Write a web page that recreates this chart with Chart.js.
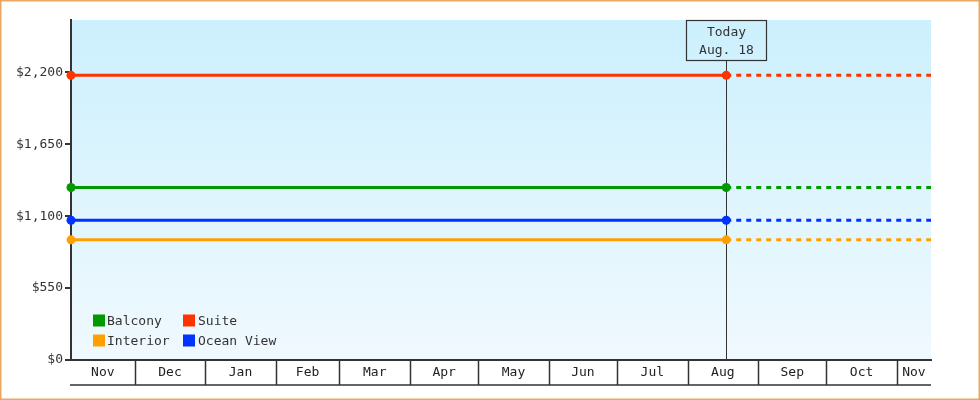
<!DOCTYPE html>
<html>
<head>
<meta charset="utf-8">
<script src="https://cdn.jsdelivr.net/npm/chart.js@4/dist/chart.umd.min.js"></script>
<style>
  body { margin: 0; background: #fff; }
</style>
</head>
<body>
<canvas id="priceChart" width="980" height="400"></canvas>
<script>
// dates on the x axis
const startDate = '2024-11-03';
const todayDate = '2025-08-18';
const endDate = '2025-11-16';
const monthStarts = ['2024-12-01', '2025-01-01', '2025-02-01', '2025-03-01', '2025-04-01', '2025-05-01',
    '2025-06-01', '2025-07-01', '2025-08-01', '2025-09-01', '2025-10-01', '2025-11-01'];
const monthLabels = ['Nov', 'Dec', 'Jan', 'Feb', 'Mar', 'Apr', 'May', 'Jun', 'Jul', 'Aug', 'Sep', 'Oct', 'Nov'];

// cabin prices
const seriesNames = ['Balcony', 'Suite', 'Interior', 'Ocean View'];
const seriesValues = [1319, 2177, 919, 1069];
const seriesColors = ['#009900', '#ff3300', '#ffa000', '#0033ff'];

const yTicks = [0, 550, 1100, 1650, 2200];
const yMax = 2600;

const dayOf = s => (Date.parse(s) - Date.parse(startDate)) / 86400000;
const bounds = [0, ...monthStarts.map(dayOf), dayOf(endDate)];
const mids = monthLabels.map((m, i) => (bounds[i] + bounds[i + 1]) / 2);
const pointDays = [0, dayOf(todayDate), dayOf(endDate)];

Chart.defaults.font.family = '"DejaVu Sans Mono", monospace';
Chart.defaults.font.size = 13;
Chart.defaults.color = '#333';

const todayX = chart => Math.round(chart.scales.x.getPixelForValue(dayOf(todayDate))) + 0.5;

const bgPlugin = {
    id: 'bg',
    beforeDraw(chart) {
        const { ctx, chartArea: a } = chart;
        const g = ctx.createLinearGradient(0, a.top, 0, a.bottom);
        g.addColorStop(0, '#ccf0fd');
        g.addColorStop(1, '#f0f9fe');
        ctx.save();
        ctx.fillStyle = g;
        ctx.fillRect(a.left, a.top, a.right - a.left, a.bottom - a.top);
        ctx.restore();
    },
    beforeDatasetsDraw(chart) {
        // today line sits under the series points
        const { ctx, chartArea: a } = chart;
        const tx = todayX(chart);
        ctx.save();
        ctx.strokeStyle = '#333';
        ctx.lineWidth = 1;
        ctx.beginPath();
        ctx.moveTo(tx, 60);
        ctx.lineTo(tx, a.bottom);
        ctx.stroke();
        ctx.restore();
    },
    afterDraw(chart) {
        const { ctx, chartArea: a, scales } = chart;
        const x = scales.x;
        ctx.save();
        // month bands under the axis
        ctx.strokeStyle = '#333';
        ctx.lineWidth = 1.5;
        ctx.beginPath();
        ctx.moveTo(a.left - 1, 385);
        ctx.lineTo(a.right, 385);
        bounds.slice(1, -1).forEach(d => {
            const px = Math.round(x.getPixelForValue(d)) + 0.5;
            ctx.moveTo(px, a.bottom);
            ctx.lineTo(px, 385);
        });
        ctx.stroke();

        // today box
        const tx = todayX(chart);
        ctx.lineWidth = 1.2;
        ctx.strokeRect(tx - 40, 20.5, 80, 40);
        ctx.fillStyle = '#333';
        ctx.textAlign = 'center';
        ctx.textBaseline = 'middle';
        ctx.font = '13px "DejaVu Sans Mono", monospace';
        ctx.fillText('Today', tx, 32.5);
        ctx.fillText('Aug. 18', tx, 50.5);

        // legend inside the plot
        ctx.textAlign = 'left';
        seriesNames.forEach((name, i) => {
            const col = i % 2, row = Math.floor(i / 2);
            const lx = a.left + 22 + col * 90;
            const ly = 320.5 + row * 20;
            ctx.fillStyle = seriesColors[i];
            ctx.fillRect(lx, ly - 6, 12, 12);
            ctx.fillStyle = '#333';
            ctx.fillText(name, lx + 14 + col, ly + 1);
        });

        // frame
        ctx.strokeStyle = '#e8a860';
        ctx.lineWidth = 1.5;
        ctx.strokeRect(0.75, 0.75, 978.5, 398.5);
        ctx.restore();
    }
};

new Chart(document.getElementById('priceChart'), {
    type: 'line',
    data: {
        datasets: seriesNames.map((name, i) => ({
            label: name,
            data: pointDays.map(d => ({ x: d, y: seriesValues[i] })),
            borderColor: seriesColors[i],
            backgroundColor: seriesColors[i],
            borderWidth: 3,
            pointRadius: [4.5, 4.5, 0],
            pointBorderWidth: 0,
            pointHoverRadius: [4.5, 4.5, 0],
            clip: false,
            segment: {
                borderDash: c => c.p0DataIndex >= 1 ? [5, 5] : undefined
            }
        }))
    },
    options: {
        responsive: false,
        animation: false,
        devicePixelRatio: 1,
        layout: { padding: { top: 20, right: 49, left: 0, bottom: 0 } },
        plugins: { legend: { display: false }, tooltip: { enabled: false } },
        scales: {
            x: {
                type: 'linear',
                min: 0,
                max: dayOf(endDate),
                afterBuildTicks: s => { s.ticks = mids.map(v => ({ value: v })); },
                afterFit: s => { s.height = 40; },
                ticks: {
                    autoSkip: false,
                    maxRotation: 0,
                    padding: 5,
                    color: '#222',
                    callback: (v, i) => monthLabels[i]
                },
                grid: { display: false, drawTicks: false },
                border: { color: '#333', width: 2 }
            },
            y: {
                min: 0,
                max: yMax,
                afterBuildTicks: s => { s.ticks = yTicks.map(v => ({ value: v })); },
                afterFit: s => { s.width = 71; },
                ticks: {
                    padding: 2,
                    color: '#333',
                    callback: v => '$' + v.toLocaleString('en-US')
                },
                grid: { drawOnChartArea: false, tickLength: 6, color: '#333', lineWidth: 2 },
                border: { color: '#333', width: 2 }
            }
        }
    },
    plugins: [bgPlugin]
});
</script>
</body>
</html>
